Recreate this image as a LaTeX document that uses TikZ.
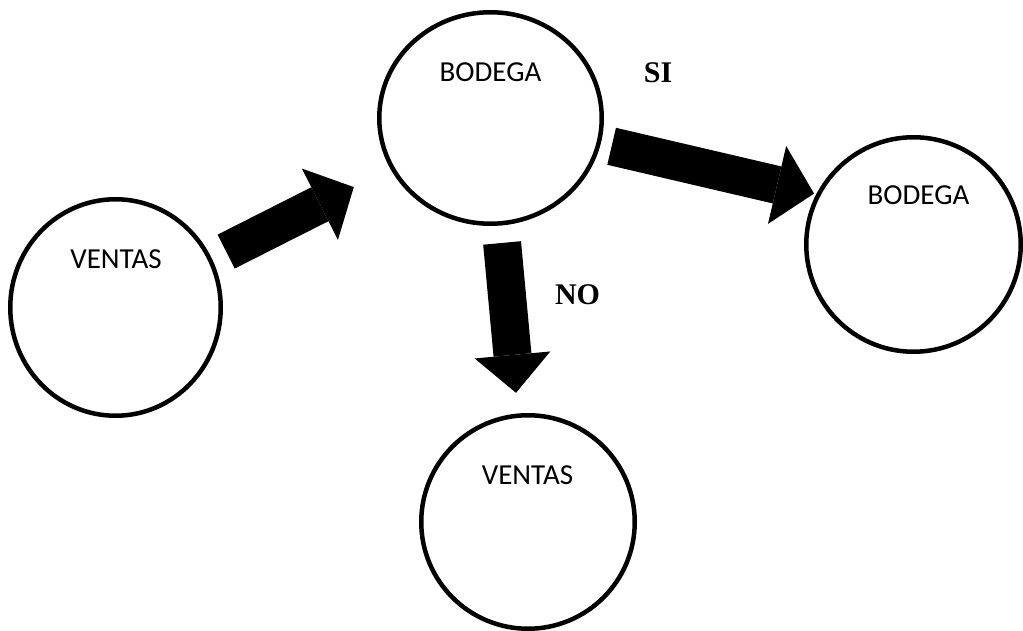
\documentclass[tikz,border=0pt]{standalone}
\usepackage{fontspec}
\setmainfont{Carlito}
\newfontfamily\answerfont{Liberation Serif}
\usetikzlibrary{calc,arrows.meta,shapes.geometric}

\begin{document}
\begin{tikzpicture}[x=1pt,y=-1pt,
  stage/.style={ellipse, draw=black, line width=4.5pt, inner sep=0pt, fill=white},
  caption/.style={anchor=base, inner sep=0pt, font=\fontsize{29}{35}\selectfont},
  verdict/.style={anchor=base, inner sep=0pt, font=\answerfont\bfseries\fontsize{30}{36}\selectfont},
  flow/.style={line width=38pt, draw=black,
    -{Triangle[length=38pt,width=#1,line width=0pt]}},
  flow/.default=80pt]

  \useasboundingbox (0,0) rectangle (1023,631);

  % process stages
  \node[stage, minimum width=210.5pt, minimum height=216.5pt] (ventas1)  at (115.5,307.5) {};
  \node[stage, minimum width=222.5pt, minimum height=211.5pt] (bodega1)  at (490.5,118) {};
  \node[stage, minimum width=214.5pt, minimum height=214.5pt] (bodega2)  at (913.5,244.5) {};
  \node[stage, minimum width=213.5pt, minimum height=213.5pt] (ventas2)  at (528,522) {};

  % stage names, set in the upper part of each circle
  \node[caption] (ventas1name) at ([xshift=0.5pt,yshift=38.5pt]ventas1.center) {VENTAS};
  \node[caption] (bodega1name) at ([yshift=36pt]bodega1.center) {BODEGA};
  \node[caption] (bodega2name) at ([xshift=5pt,yshift=39.5pt]bodega2.center) {BODEGA};
  \node[caption] (ventas2name) at ([xshift=-0.5pt,yshift=38pt]ventas2.center) {VENTAS};

  % block arrows between the stages
  \draw[flow] ($(ventas1)!124pt!(bodega1)$) -- ($(ventas1)!267pt!(bodega1)$);
  \draw[flow] ($(bodega1)!124.4pt!3.5:(bodega2)$) -- ($(bodega1)!332.3pt!3.5:(bodega2)$);
  \draw[flow=76pt] ($(bodega1)!125.5pt!(ventas2)$) -- ($(bodega1)!276pt!(ventas2)$);

  % decision labels
  \node[verdict] (si) at (658,83) {SI};
  \node[verdict] (no) at (577.5,305) {NO};
\end{tikzpicture}
\end{document}
